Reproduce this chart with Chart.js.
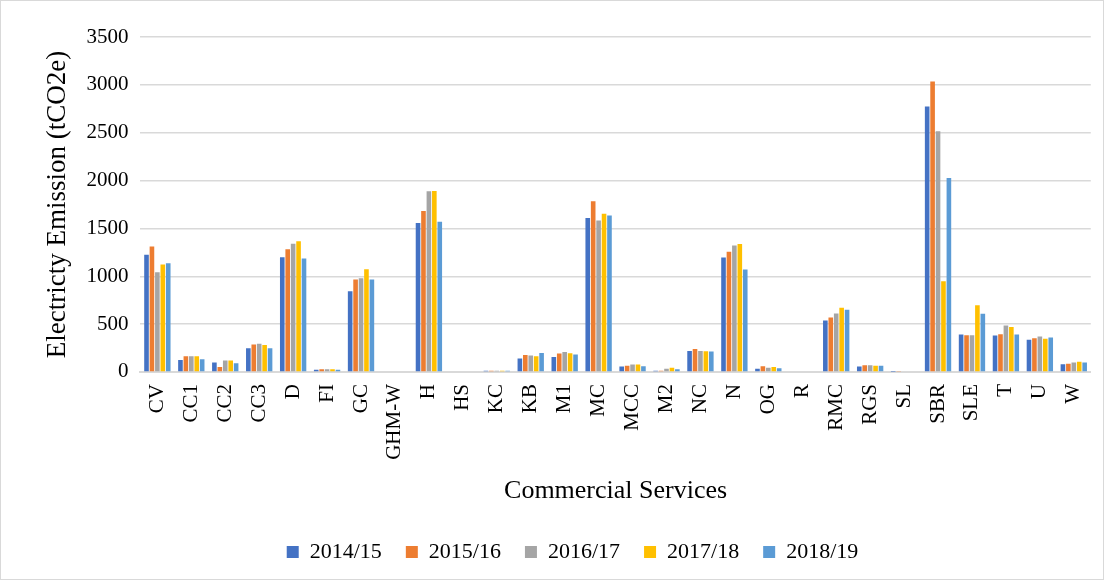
<!DOCTYPE html>
<html lang="en">
<head>
  <meta charset="UTF-8">
  <title>Electricity Emission - Commercial Services</title>
  <script src="https://cdn.jsdelivr.net/npm/chart.js"></script>
  <style>
    html, body { margin: 0; padding: 0; background: #fff; }
    #wrap {
      position: absolute; left: 0; top: 0;
      width: 1104px; height: 580px;
      border: 1px solid #d9d9d9; box-sizing: border-box;
    }
  </style>
</head>
<body>
  <div id="wrap"><canvas id="grafico"></canvas></div>
  <script>
    const categorias = ["CV", "CC1", "CC2", "CC3", "D", "FI", "GC", "GHM-W", "H", "HS",
      "KC", "KB", "M1", "MC", "MCC", "M2", "NC", "N", "OG", "R",
      "RMC", "RGS", "SL", "SBR", "SLE", "T", "U", "W"];

    const anos = ["2014/15", "2015/16", "2016/17", "2017/18", "2018/19"];
    const cores = ["#4472C4", "#ED7D31", "#A5A5A5", "#FFC000", "#5B9BD5"];

    const v2014 = [1224, 126, 98, 248, 1199, 24, 843, 0, 1556, 0,
      12, 140, 157, 1608, 56, 14, 220, 1196, 35, 0,
      538, 56, 3, 2773, 392, 381, 336, 80];
    const v2015 = [1311, 164, 52, 287, 1283, 28, 965, 0, 1682, 0,
      12, 178, 192, 1783, 66, 14, 241, 1255, 59, 0,
      570, 70, 4, 3035, 385, 395, 353, 87];
    const v2016 = [1042, 164, 119, 294, 1339, 28, 979, 0, 1888, 0,
      12, 171, 210, 1584, 77, 35, 220, 1322, 45, 0,
      612, 70, 0, 2514, 385, 486, 371, 98];
    const v2017 = [1122, 164, 119, 283, 1367, 28, 1073, 0, 1892, 0,
      12, 164, 196, 1654, 77, 45, 217, 1336, 52, 0,
      671, 66, 0, 948, 696, 469, 346, 108];
    const v2018 = [1136, 133, 91, 248, 1185, 24, 965, 0, 1570, 0,
      12, 199, 182, 1636, 59, 28, 213, 1070, 38, 0,
      650, 66, 0, 2028, 608, 392, 360, 98];

    const series = [v2014, v2015, v2016, v2017, v2018];
    const yTicks = [0, 500, 1000, 1500, 2000, 2500, 3000, 3500];

    const fonte = "'Liberation Serif', 'Times New Roman', serif";
    Chart.defaults.font.family = fonte;
    Chart.defaults.color = "#000";

    new Chart(document.getElementById("grafico"), {
      type: "bar",
      data: {
        labels: categorias,
        datasets: series.map((s, i) => ({
          label: anos[i],
          data: s,
          backgroundColor: cores[i],
          borderWidth: 0,
          categoryPercentage: 0.8,
          barPercentage: 0.85
        }))
      },
      options: {
        responsive: true,
        maintainAspectRatio: false,
        animation: false,
        layout: { padding: { left: 41, right: 0, top: 36, bottom: 6 } },
        plugins: {
          legend: {
            position: "bottom",
            labels: {
              font: { family: fonte, size: 22 },
              color: "#000",
              boxWidth: 12,
              boxHeight: 12,
              padding: 24
            }
          },
          tooltip: { enabled: false }
        },
        scales: {
          x: {
            grid: { display: false },
            border: { color: "#d9d9d9", width: 2 },
            ticks: {
              font: { family: fonte, size: 21 },
              minRotation: 90,
              maxRotation: 90,
              autoSkip: false,
              padding: 4
            },
            title: {
              display: true,
              text: "Commercial Services",
              font: { family: fonte, size: 26 },
              padding: { top: 12, bottom: 10 }
            }
          },
          y: {
            min: 0,
            max: 3500,
            afterBuildTicks: ax => { ax.ticks = yTicks.map(v => ({ value: v })); },
            grid: { color: "#d9d9d9", lineWidth: 1.5, drawTicks: false },
            border: { display: false },
            ticks: {
              font: { family: fonte, size: 21 },
              padding: 12,
              callback: v => String(v)
            },
            title: {
              display: true,
              text: "Electricty Emission (tCO2e)",
              font: { family: fonte, size: 27 },
              padding: { top: 0, bottom: 0 }
            }
          }
        }
      }
    });
  </script>
</body>
</html>
